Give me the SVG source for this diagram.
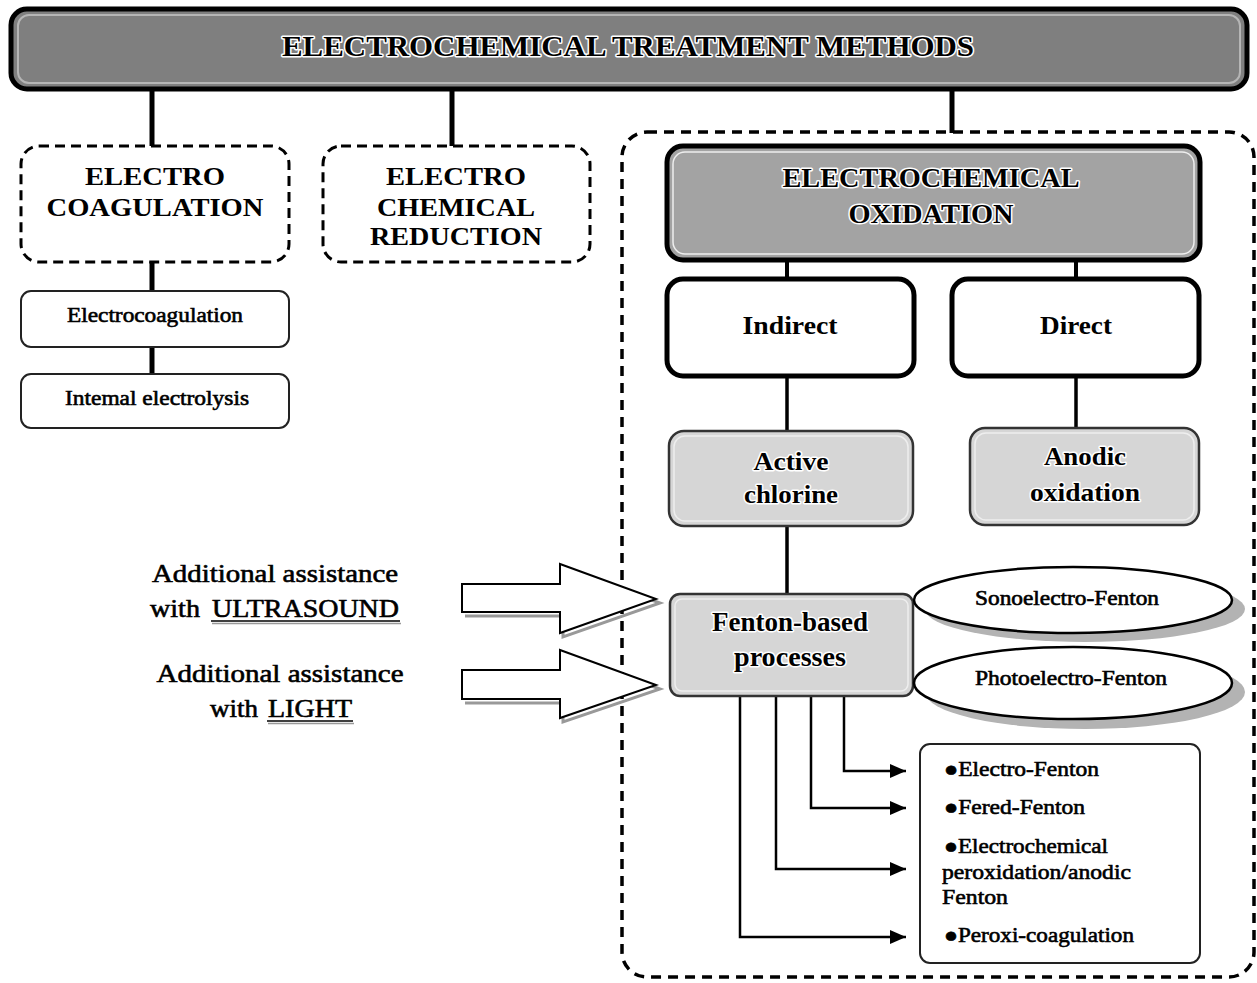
<svg xmlns="http://www.w3.org/2000/svg" width="1257" height="983" viewBox="0 0 1257 983">
<defs>
<style>
.sf{font-family:"Liberation Serif","Times New Roman",serif;fill:#000}
.b{font-weight:bold}
.med{stroke:#000;stroke-width:0.6}
.halo{stroke:#fff;stroke-width:3;paint-order:stroke fill;stroke-linejoin:round}
.dash{fill:#fff;stroke:#000;stroke-width:3;stroke-dasharray:10 6}
.thin{fill:#fff;stroke:#222;stroke-width:2}
.thick{fill:#fff;stroke:#000;stroke-width:5}
.grey{fill:#d6d6d6;stroke:#333;stroke-width:2.5}
.inner{fill:none;stroke:#eee;stroke-width:1.5}
.conn{stroke:#000;fill:none}
</style>
<marker id="ah" markerWidth="16" markerHeight="14" refX="16" refY="7" orient="auto" markerUnits="userSpaceOnUse">
<path d="M0,0 L16,7 L0,14 Z" fill="#000"/>
</marker>
</defs>
<rect x="0" y="0" width="1257" height="983" fill="#fff"/>

<g id="oxidation-region">
<rect x="622" y="132" width="632" height="845" rx="25" fill="none" stroke="#000" stroke-width="3.5" stroke-dasharray="10 7"/>
</g>

<g id="connectors">
<g class="conn" stroke-width="5">
<line x1="152" y1="88" x2="152" y2="146"/>
<line x1="452" y1="88" x2="452" y2="146"/>
<line x1="952" y1="88" x2="952" y2="133"/>
<line x1="152" y1="262" x2="152" y2="291"/>
<line x1="152" y1="347" x2="152" y2="374"/>
</g>
<g class="conn" stroke-width="4">
<line x1="787" y1="260" x2="787" y2="279"/>
<line x1="1076" y1="260" x2="1076" y2="279"/>
</g>
<g class="conn" stroke-width="3.5">
<line x1="787" y1="376" x2="787" y2="431"/>
<line x1="1076" y1="376" x2="1076" y2="428"/>
<line x1="787" y1="526" x2="787" y2="594"/>
</g>
<g class="conn" stroke-width="2.5">
<polyline points="844,697 844,771 906,771" marker-end="url(#ah)"/>
<polyline points="811,697 811,808 906,808" marker-end="url(#ah)"/>
<polyline points="776,697 776,869 906,869" marker-end="url(#ah)"/>
<polyline points="740,697 740,937 906,937" marker-end="url(#ah)"/>
</g>
</g>

<g id="top">
<rect x="11" y="9" width="1236" height="80" rx="16" fill="#7f7f7f" stroke="#000" stroke-width="5"/>
<rect x="18" y="15" width="1222" height="68" rx="11" fill="none" stroke="#b5b5b5" stroke-width="2"/>
<text class="sf b halo" x="628" y="56" font-size="30" text-anchor="middle" textLength="692" lengthAdjust="spacingAndGlyphs">ELECTROCHEMICAL TREATMENT METHODS</text>
</g>

<g id="electrocoagulation-group">
<rect class="dash" x="21" y="146" width="268" height="116" rx="18"/>
<text class="sf b" x="155" y="185" font-size="26" text-anchor="middle" textLength="140" lengthAdjust="spacingAndGlyphs">ELECTRO</text>
<text class="sf b" x="155" y="216" font-size="26" text-anchor="middle" textLength="217" lengthAdjust="spacingAndGlyphs">COAGULATION</text>
</g>

<g id="reduction">
<rect class="dash" x="323" y="146" width="267" height="116" rx="18"/>
<text class="sf b" x="456" y="185" font-size="26" text-anchor="middle" textLength="140" lengthAdjust="spacingAndGlyphs">ELECTRO</text>
<text class="sf b" x="456" y="216" font-size="26" text-anchor="middle" textLength="158" lengthAdjust="spacingAndGlyphs">CHEMICAL</text>
<text class="sf b" x="456" y="245" font-size="26" text-anchor="middle" textLength="172" lengthAdjust="spacingAndGlyphs">REDUCTION</text>
</g>

<g id="electrocoagulation">
<rect class="thin" x="21" y="291" width="268" height="56" rx="10"/>
<text class="sf med" x="155" y="322" font-size="21" text-anchor="middle" textLength="176" lengthAdjust="spacingAndGlyphs">Electrocoagulation</text>
</g>

<g id="internal-electrolysis">
<rect class="thin" x="21" y="374" width="268" height="54" rx="10"/>
<text class="sf med" x="157" y="405" font-size="21" text-anchor="middle" textLength="184" lengthAdjust="spacingAndGlyphs">Intemal electrolysis</text>
</g>

<g id="ec-oxidation">
<rect x="667" y="146" width="533" height="114" rx="16" fill="#a3a3a3" stroke="#000" stroke-width="5"/>
<rect x="673" y="152" width="521" height="102" rx="12" class="inner" stroke="#d0d0d0"/>
<text class="sf b halo" x="931" y="187" font-size="27" text-anchor="middle" textLength="297" lengthAdjust="spacingAndGlyphs">ELECTROCHEMICAL</text>
<text class="sf b halo" x="931" y="223" font-size="27" text-anchor="middle" textLength="165" lengthAdjust="spacingAndGlyphs">OXIDATION</text>
</g>

<g id="indirect">
<rect class="thick" x="667" y="279" width="247" height="97" rx="16"/>
<text class="sf b" x="790" y="334" font-size="25" text-anchor="middle" textLength="95" lengthAdjust="spacingAndGlyphs">Indirect</text>
</g>

<g id="direct">
<rect class="thick" x="952" y="279" width="247" height="97" rx="16"/>
<text class="sf b" x="1076" y="334" font-size="25" text-anchor="middle" textLength="72" lengthAdjust="spacingAndGlyphs">Direct</text>
</g>

<g id="active-chlorine">
<rect class="grey" x="669" y="431" width="244" height="95" rx="15"/>
<rect class="inner" x="674" y="436" width="234" height="85" rx="11"/>
<text class="sf b halo" x="791" y="470" font-size="26" text-anchor="middle" textLength="75" lengthAdjust="spacingAndGlyphs">Active</text>
<text class="sf b halo" x="791" y="503" font-size="26" text-anchor="middle" textLength="94" lengthAdjust="spacingAndGlyphs">chlorine</text>
</g>

<g id="anodic-oxidation">
<rect class="grey" x="970" y="428" width="229" height="97" rx="15"/>
<rect class="inner" x="975" y="433" width="219" height="87" rx="11"/>
<text class="sf b halo" x="1085" y="465" font-size="26" text-anchor="middle" textLength="82" lengthAdjust="spacingAndGlyphs">Anodic</text>
<text class="sf b halo" x="1085" y="501" font-size="26" text-anchor="middle" textLength="110" lengthAdjust="spacingAndGlyphs">oxidation</text>
</g>

<g id="fenton-based">
<rect class="grey" x="670" y="594" width="243" height="102" rx="10"/>
<rect class="inner" x="675" y="599" width="233" height="92" rx="7"/>
<text class="sf halo" x="790" y="631" font-size="27" text-anchor="middle" textLength="156" lengthAdjust="spacingAndGlyphs" font-weight="600">Fenton-based</text>
<text class="sf halo" x="790" y="666" font-size="27" text-anchor="middle" textLength="112" lengthAdjust="spacingAndGlyphs" font-weight="600">processes</text>
</g>

<g id="sonoelectro-fenton">
<ellipse cx="1085" cy="609" rx="160" ry="33" fill="#b3b3b3"/>
<ellipse cx="1073" cy="600" rx="159" ry="33" fill="#fff" stroke="#000" stroke-width="2.5"/>
<text class="sf med" x="1067" y="605" font-size="20" text-anchor="middle" textLength="184" lengthAdjust="spacingAndGlyphs">Sonoelectro-Fenton</text>
</g>

<g id="photoelectro-fenton">
<ellipse cx="1085" cy="692" rx="160" ry="37" fill="#b3b3b3"/>
<ellipse cx="1073" cy="683" rx="159" ry="36" fill="#fff" stroke="#000" stroke-width="2.5"/>
<text class="sf med" x="1071" y="685" font-size="20" text-anchor="middle" textLength="192" lengthAdjust="spacingAndGlyphs">Photoelectro-Fenton</text>
</g>

<g id="fenton-list">
<rect class="thin" x="920" y="744" width="280" height="219" rx="10"/>
<text class="sf med" x="944" y="776" font-size="21" textLength="155" lengthAdjust="spacingAndGlyphs">●Electro-Fenton</text>
<text class="sf med" x="944" y="814" font-size="21" textLength="141" lengthAdjust="spacingAndGlyphs">●Fered-Fenton</text>
<text class="sf med" x="944" y="853" font-size="21" textLength="164" lengthAdjust="spacingAndGlyphs">●Electrochemical</text>
<text class="sf med" x="942" y="879" font-size="21" textLength="189" lengthAdjust="spacingAndGlyphs">peroxidation/anodic</text>
<text class="sf med" x="942" y="904" font-size="21" textLength="66" lengthAdjust="spacingAndGlyphs">Fenton</text>
<text class="sf med" x="944" y="942" font-size="21" textLength="190" lengthAdjust="spacingAndGlyphs">●Peroxi-coagulation</text>
</g>

<g id="ultrasound">
<text class="sf med" x="275" y="582" font-size="25" text-anchor="middle" textLength="246" lengthAdjust="spacingAndGlyphs">Additional assistance</text>
<text class="sf med" x="150" y="617" font-size="25" textLength="50" lengthAdjust="spacingAndGlyphs">with</text>
<text class="sf med" x="212" y="617" font-size="25" textLength="187" lengthAdjust="spacingAndGlyphs">ULTRASOUND</text>
<line x1="211" y1="621" x2="400" y2="621" stroke="#000" stroke-width="1.5"/>
<line x1="212" y1="623.5" x2="401" y2="623.5" stroke="#999" stroke-width="1.5"/>
<path d="M465,588 L563,588 L563,568 L660,603 L563,637 L563,616 L465,616" fill="none" stroke="#999" stroke-width="3"/>
<path d="M462,584 L560,584 L560,564 L656,599 L560,633 L560,612 L462,612 Z" fill="#fff" stroke="#000" stroke-width="2"/>
</g>

<g id="light">
<text class="sf med" x="280" y="682" font-size="25" text-anchor="middle" textLength="247" lengthAdjust="spacingAndGlyphs">Additional assistance</text>
<text class="sf med" x="210" y="717" font-size="25" textLength="48" lengthAdjust="spacingAndGlyphs">with</text>
<text class="sf med" x="268" y="717" font-size="25" textLength="84" lengthAdjust="spacingAndGlyphs">LIGHT</text>
<line x1="267" y1="721" x2="353" y2="721" stroke="#000" stroke-width="1.5"/>
<line x1="268" y1="723.5" x2="354" y2="723.5" stroke="#999" stroke-width="1.5"/>
<path d="M465,674 L563,674 L563,654 L660,689 L563,722 L563,703 L465,703" fill="none" stroke="#999" stroke-width="3"/>
<path d="M462,670 L560,670 L560,650 L656,685 L560,718 L560,699 L462,699 Z" fill="#fff" stroke="#000" stroke-width="2"/>
</g>
</svg>
